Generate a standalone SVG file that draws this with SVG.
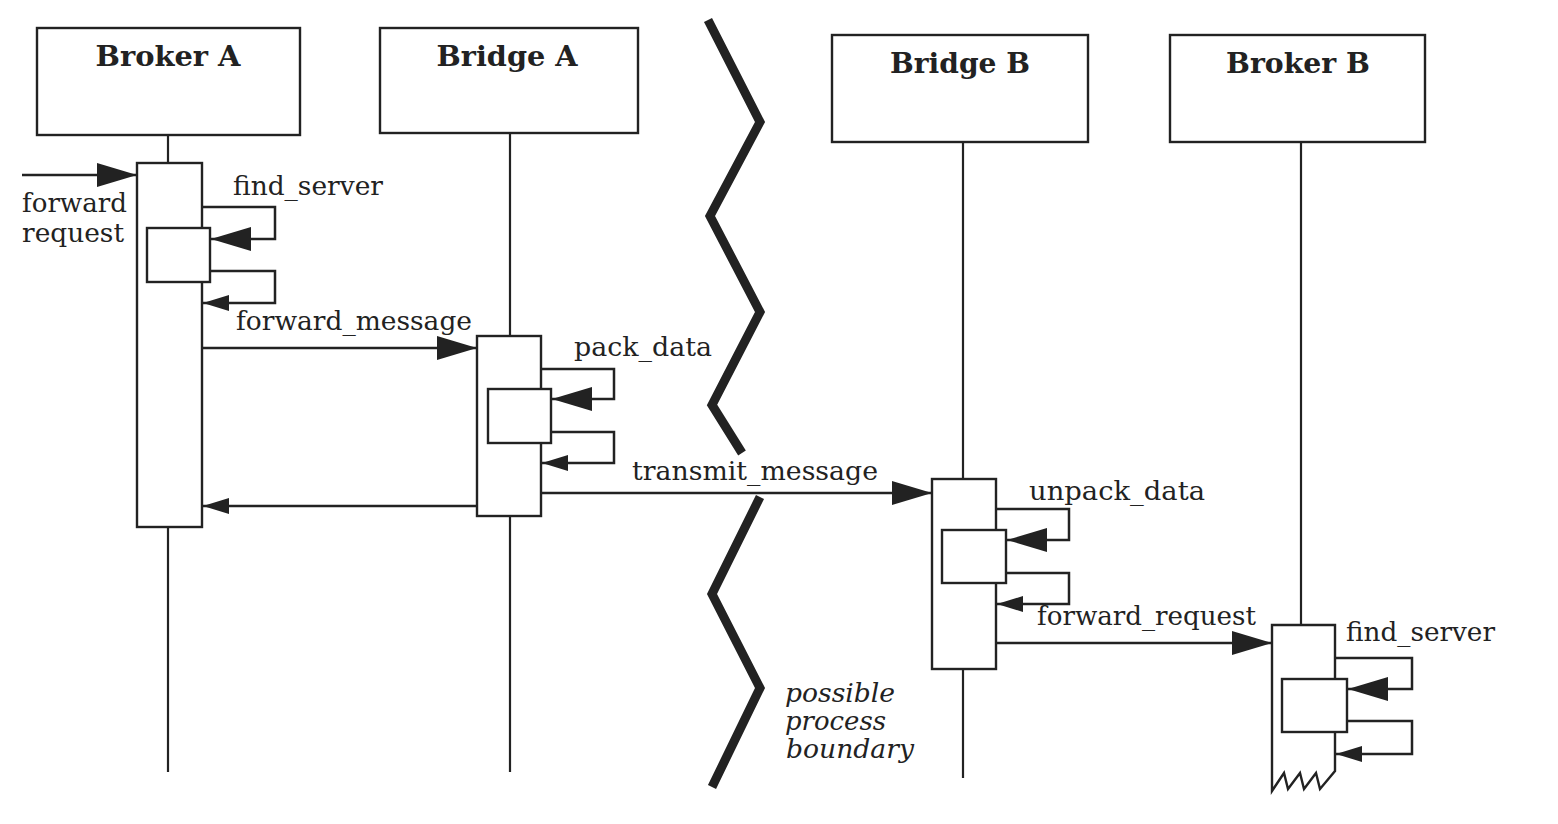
<svg xmlns="http://www.w3.org/2000/svg" width="1558" height="824" viewBox="0 0 1558 824">
<style>
.box{fill:#fff;stroke:#222;stroke-width:2.4}
.life{stroke:#222;stroke-width:2.2;fill:none}
.hdr{font-family:"DejaVu Serif","Liberation Serif",serif;font-weight:bold;font-size:27px;fill:#222;text-anchor:middle}
.lbl{font-family:"DejaVu Serif","Liberation Serif",serif;font-size:26px;fill:#222}
.note{font-family:"DejaVu Serif","Liberation Serif",serif;font-style:italic;font-size:26px;fill:#222}
.msg{stroke:#222;stroke-width:2.5;fill:none}
.zig{stroke:#222;stroke-width:9;fill:none;stroke-linejoin:miter}
</style>
<defs>
<marker id="big" viewBox="0 0 40 24" refX="40" refY="12" markerWidth="40" markerHeight="24" markerUnits="userSpaceOnUse" orient="auto">
<path d="M0,0 L40,12 L0,24 Z" fill="#222"/>
</marker>
<marker id="small" viewBox="0 0 26 16" refX="26" refY="8" markerWidth="26" markerHeight="16" markerUnits="userSpaceOnUse" orient="auto">
<path d="M0,0 L26,8 L0,16 Z" fill="#222"/>
</marker>
</defs>
<rect width="1558" height="824" fill="#fff"/>

<g id="brokerA">
<rect class="box" x="37" y="28" width="263" height="107"/>
<text class="hdr" x="168" y="66" textLength="145" lengthAdjust="spacingAndGlyphs">Broker A</text>
<line class="life" x1="168" y1="135" x2="168" y2="163"/>
<line class="life" x1="168" y1="527" x2="168" y2="772"/>
<rect class="box" x="137" y="163" width="65" height="364"/>
<rect class="box" x="147" y="228" width="63" height="54"/>
</g>

<g id="bridgeA">
<rect class="box" x="380" y="28" width="258" height="105"/>
<text class="hdr" x="507" y="66" textLength="141" lengthAdjust="spacingAndGlyphs">Bridge A</text>
<line class="life" x1="510" y1="133" x2="510" y2="336"/>
<line class="life" x1="510" y1="516" x2="510" y2="772"/>
<rect class="box" x="477" y="336" width="64" height="180"/>
<rect class="box" x="488" y="389" width="63" height="54"/>
</g>

<g id="bridgeB">
<rect class="box" x="832" y="35" width="256" height="107"/>
<text class="hdr" x="960" y="73" textLength="140" lengthAdjust="spacingAndGlyphs">Bridge B</text>
<line class="life" x1="963" y1="142" x2="963" y2="479"/>
<line class="life" x1="963" y1="669" x2="963" y2="778"/>
<rect class="box" x="932" y="479" width="64" height="190"/>
<rect class="box" x="942" y="530" width="64" height="53"/>
</g>

<g id="brokerB">
<rect class="box" x="1170" y="35" width="255" height="107"/>
<text class="hdr" x="1298" y="73" textLength="144" lengthAdjust="spacingAndGlyphs">Broker B</text>
<line class="life" x1="1301" y1="142" x2="1301" y2="625"/>
<path class="box" d="M1335,625 H1272 V791 L1284,773 L1288,789 L1300,773 L1304,789 L1316,773 L1320,789 L1335,771 Z"/>
<rect class="box" x="1282" y="679" width="65" height="53"/>
</g>

<g id="boundary">
<polyline class="zig" points="708,20 760,122 710,216 760,312 712,405 742,453"/>
<polyline class="zig" points="760,497 712,594 760,688 712,787"/>
<text class="note" x="785" y="702" textLength="110" lengthAdjust="spacingAndGlyphs">possible</text>
<text class="note" x="785" y="730" textLength="101" lengthAdjust="spacingAndGlyphs">process</text>
<text class="note" x="786" y="758" textLength="128" lengthAdjust="spacingAndGlyphs">boundary</text>
</g>

<g id="connectors">
<path class="msg" d="M22,175 H137" marker-end="url(#big)"/>
<path class="msg" d="M202,207 H275 V239 H211" marker-end="url(#big)"/>
<path class="msg" d="M210,271 H275 V303 H203" marker-end="url(#small)"/>
<path class="msg" d="M202,348 H477" marker-end="url(#big)"/>
<path class="msg" d="M541,369 H614 V399 H552" marker-end="url(#big)"/>
<path class="msg" d="M551,432 H614 V463 H542" marker-end="url(#small)"/>
<path class="msg" d="M541,493 H932" marker-end="url(#big)"/>
<path class="msg" d="M477,506 H203" marker-end="url(#small)"/>
<path class="msg" d="M996,509 H1069 V540 H1007" marker-end="url(#big)"/>
<path class="msg" d="M1006,573 H1069 V604 H997" marker-end="url(#small)"/>
<path class="msg" d="M996,643 H1272" marker-end="url(#big)"/>
<path class="msg" d="M1335,658 H1412 V689 H1348" marker-end="url(#big)"/>
<path class="msg" d="M1347,721 H1412 V754 H1336" marker-end="url(#small)"/>
</g>

<g id="labels">
<text class="lbl" x="22" y="212" textLength="105" lengthAdjust="spacingAndGlyphs">forward</text>
<text class="lbl" x="22" y="242" textLength="102" lengthAdjust="spacingAndGlyphs">request</text>
<text class="lbl" x="233" y="195" textLength="150" lengthAdjust="spacingAndGlyphs">find_server</text>
<text class="lbl" x="236" y="330" textLength="236" lengthAdjust="spacingAndGlyphs">forward_message</text>
<text class="lbl" x="574" y="356" textLength="138" lengthAdjust="spacingAndGlyphs">pack_data</text>
<text class="lbl" x="632" y="480" textLength="246" lengthAdjust="spacingAndGlyphs">transmit_message</text>
<text class="lbl" x="1029" y="500" textLength="176" lengthAdjust="spacingAndGlyphs">unpack_data</text>
<text class="lbl" x="1037" y="625" textLength="219" lengthAdjust="spacingAndGlyphs">forward_request</text>
<text class="lbl" x="1346" y="641" textLength="149" lengthAdjust="spacingAndGlyphs">find_server</text>
</g>
</svg>
